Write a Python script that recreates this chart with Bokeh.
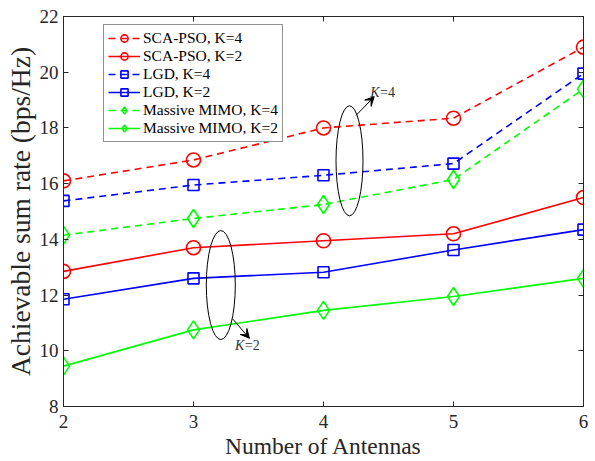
from bokeh.plotting import figure
from bokeh.models import (LinearAxis, FixedTicker, Range1d, Legend, LegendItem,
                          Arrow, VeeHead, Title)
from bokeh.core.properties import value
from bokeh.embed import file_html
from bokeh.resources import INLINE

antennas = [2, 3, 4, 5, 6]
sca_pso_k4 = [16.1, 16.85, 18.0, 18.35, 20.9]
sca_pso_k2 = [12.85, 13.7, 13.95, 14.2, 15.5]
lgd_k4 = [15.38, 15.95, 16.3, 16.72, 19.95]
lgd_k2 = [11.85, 12.6, 12.82, 13.62, 14.35]
mimo_k4 = [14.15, 14.75, 15.25, 16.15, 19.4]
mimo_k2 = [9.45, 10.75, 11.45, 11.95, 12.6]

x_ticks = [2, 3, 4, 5, 6]
y_ticks = [8, 10, 12, 14, 16, 18, 20, 22]

FONT = "Liberation Serif"
AX = "#262626"

p = figure(width=591, height=461, output_backend="svg", toolbar_location=None,
           x_range=Range1d(2, 6), y_range=Range1d(8, 22),
           min_border_left=63, min_border_right=8, min_border_top=16,
           min_border_bottom=53, x_axis_label="Number of Antennas")
p.xgrid.visible = False
p.ygrid.visible = False
p.outline_line_color = AX
p.outline_line_width = 1

for ax in (p.xaxis[0], p.yaxis[0]):
    ax.major_label_text_font = FONT
    ax.major_label_text_font_size = "19px"
    ax.major_label_text_color = AX
    ax.axis_label_text_font = FONT
    ax.axis_label_text_font_size = "23.5px"
    ax.axis_label_text_font_style = "normal"
    ax.axis_label_text_color = AX
    ax.axis_line_color = AX
    ax.major_tick_line_color = AX
    ax.major_tick_in = 5
    ax.major_tick_out = 0
    ax.minor_tick_line_color = None
p.xaxis[0].ticker = FixedTicker(ticks=x_ticks)
p.yaxis[0].ticker = FixedTicker(ticks=y_ticks)
p.xaxis[0].major_label_standoff = 8
p.yaxis[0].major_label_standoff = 5
p.xaxis[0].axis_label_standoff = 2

top = LinearAxis(ticker=FixedTicker(ticks=x_ticks), major_label_text_color=None,
                 major_label_text_font_size="0px", major_tick_in=5, major_tick_out=0,
                 minor_tick_line_color=None, axis_line_color=AX, major_tick_line_color=AX)
right = LinearAxis(ticker=FixedTicker(ticks=y_ticks), major_label_text_color=None,
                   major_label_text_font_size="0px", major_tick_in=5, major_tick_out=0,
                   minor_tick_line_color=None, axis_line_color=AX, major_tick_line_color=AX)
p.add_layout(top, "above")
p.add_layout(right, "right")

ylab = Title(text="Achievable sum rate (bps/Hz)", align="center", offset=17,
             text_font=FONT, text_font_size="27.5px", text_color=AX,
             text_font_style="normal", standoff=2)
p.add_layout(ylab, "left")

RED, BLUE, GREEN = "#FF0000", "#0000FF", "#00FF00"
DASH = "7 5"
series = [
    ("SCA-PSO, K=4", sca_pso_k4, RED, DASH, "circle", 14),
    ("SCA-PSO, K=2", sca_pso_k2, RED, "solid", "circle", 14),
    ("LGD, K=4", lgd_k4, BLUE, DASH, "square", 11),
    ("LGD, K=2", lgd_k2, BLUE, "solid", "square", 11),
    ("Massive MIMO, K=4", mimo_k4, GREEN, DASH, "diamond", 18),
    ("Massive MIMO, K=2", mimo_k2, GREEN, "solid", "diamond", 18),
]
items = []
for label, ys, col, dash, marker, size in series:
    ln = p.line(antennas, ys, line_color=col, line_width=1.6, line_dash=dash)
    mk = p.scatter(antennas, ys, marker=marker, size=size, fill_color=None,
                   line_color=col, line_width=1.6)
    items.append(LegendItem(label=label, renderers=[ln, mk]))

legend = Legend(items=items, location=(40, 264), label_text_font=FONT,
                label_text_font_size="15.5px", label_text_color="#000000",
                glyph_width=32, glyph_height=18, label_height=18,
                spacing=0, padding=4, margin=0, label_standoff=3,
                border_line_color=AX, border_line_width=1,
                background_fill_alpha=1.0)
p.add_layout(legend, "center")

# ellipses and annotations
p.ellipse(x=[4.2], y=[16.82], width=27, height=110, width_units="screen",
          height_units="screen", fill_color=None, line_color="black", line_width=1)
p.ellipse(x=[3.21], y=[12.36], width=29, height=109, width_units="screen",
          height_units="screen", fill_color=None, line_color="black", line_width=1)
p.add_layout(Arrow(end=VeeHead(size=9, fill_color="black", line_color="black"),
                   x_start=4.25, y_start=18.45, x_end=4.39, y_end=19.12,
                   line_color="black", line_width=1))
p.add_layout(Arrow(end=VeeHead(size=9, fill_color="black", line_color="black"),
                   x_start=3.3, y_start=11.15, x_end=3.43, y_end=10.45,
                   line_color="black", line_width=1))
p.text(x=[4.36], y=[19.27], text=["K"], text_font=value(FONT), text_font_size="14px",
       text_font_style="italic", text_baseline="middle", text_align="left", text_color="#333333")
p.text(x=[4.435], y=[19.27], text=["=4"], text_font=value(FONT), text_font_size="14px",
       text_baseline="middle", text_align="left", text_color="#333333")
p.text(x=[3.32], y=[10.2], text=["K"], text_font=value(FONT), text_font_size="14px",
       text_font_style="italic", text_baseline="middle", text_align="left", text_color="#333333")
p.text(x=[3.395], y=[10.2], text=["=2"], text_font=value(FONT), text_font_size="14px",
       text_baseline="middle", text_align="left", text_color="#333333")

open("out.html", "w").write(file_html(p, INLINE))
